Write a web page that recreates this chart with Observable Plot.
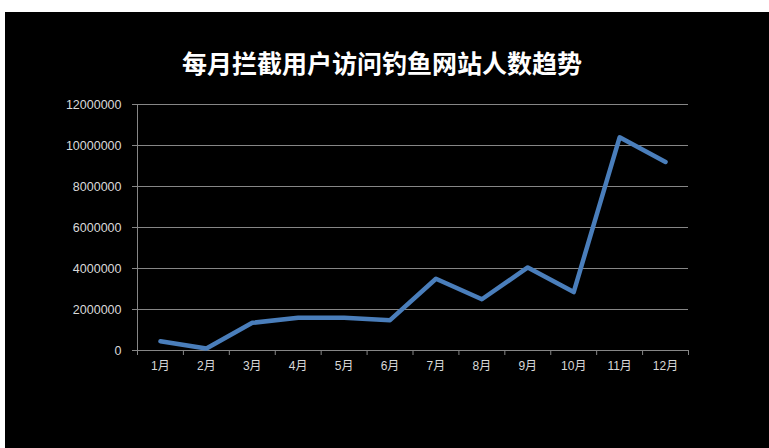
<!DOCTYPE html>
<html>
<head>
<meta charset="utf-8">
<script src="https://cdn.jsdelivr.net/npm/d3@7"></script>
<script src="https://cdn.jsdelivr.net/npm/@observablehq/plot@0.6"></script>
<style>
  html, body { margin: 0; padding: 0; background: #ffffff; }
  #chart { position: absolute; left: 5px; top: 12px; width: 764px; height: 436px; background: #000000; }
  #chart svg { display: block; }
</style>
</head>
<body>
<div id="chart"></div>
<script>
const title = "每月拦截用户访问钓鱼网站人数趋势";
const months = ["1月","2月","3月","4月","5月","6月","7月","8月","9月","10月","11月","12月"];
const visitors = [450000, 100000, 1350000, 1600000, 1600000, 1480000, 3500000, 2500000, 4050000, 2850000, 10400000, 9200000];
const yTicks = [0, 2000000, 4000000, 6000000, 8000000, 10000000, 12000000];

const data = months.map((m, i) => ({idx: i + 1, month: m, value: visitors[i]}));
const boundaries = d3.range(0, months.length + 1).map(i => i + 0.5);

const fontFamily = "'Liberation Sans', 'Noto Sans CJK SC', sans-serif";
const gray = "#868686";
const labelColor = "#d9d9d9";

const chart = Plot.plot({
  width: 764,
  height: 436,
  marginLeft: 132,
  marginRight: 81,
  marginTop: 92,
  marginBottom: 98,
  style: {background: "#000000", fontFamily, fontSize: "12.5px", color: labelColor},
  x: {type: "linear", domain: [0.5, months.length + 0.5]},
  y: {domain: [0, 12000000]},
  marks: [
    Plot.gridY(yTicks, {stroke: gray, strokeOpacity: 1, strokeWidth: 1}),
    Plot.axisY(yTicks, {tickSize: 5, tickPadding: 11, tickFormat: d3.format("d"), stroke: gray, fill: labelColor, label: null, fontSize: 12.5}),
    Plot.ruleY([0], {stroke: gray, strokeWidth: 1}),
    Plot.ruleX([0.5], {stroke: gray, strokeWidth: 1}),
    Plot.axisX(boundaries, {tickSize: 5, tickFormat: () => "", stroke: gray, label: null}),
    Plot.axisX(data.map(d => d.idx), {tickSize: 0, tickPadding: 11, tickFormat: i => months[i - 1], fill: labelColor, label: null, fontSize: 12}),
    Plot.lineY(data, {x: "idx", y: "value", stroke: "#4a7ebb", strokeWidth: 4.5, strokeLinejoin: "round", strokeLinecap: "round"}),
    Plot.text([title], {frameAnchor: "top", dx: -31, dy: -49, text: d => d, fill: "#ffffff", fontSize: 25, fontWeight: "bold", fontFamily: "'Noto Sans CJK SC', sans-serif"})
  ]
});
document.getElementById("chart").appendChild(chart);
</script>
</body>
</html>
